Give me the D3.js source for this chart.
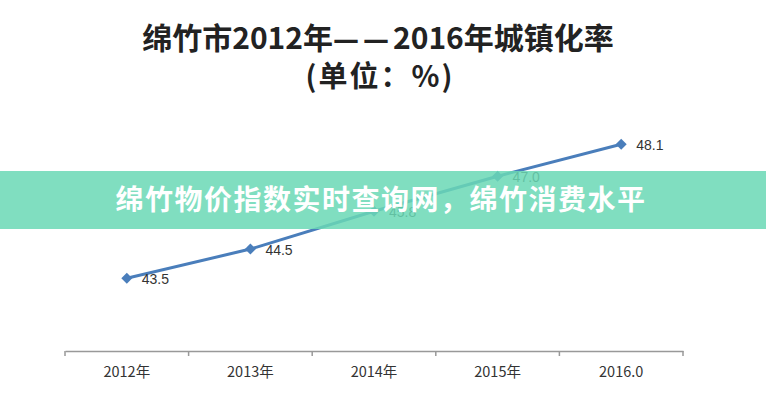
<!DOCTYPE html>
<html><head><meta charset="utf-8">
<script src="https://cdn.jsdelivr.net/npm/d3@7"></script>
<style>html,body{margin:0;padding:0;background:#fff;}svg{display:block;}</style>
</head><body>
<svg id="c" width="766" height="400"></svg>
<script>
const categories = ["2012年","2013年","2014年","2015年","2016.0"];
const values = [43.5, 44.5, 45.8, 47.0, 48.1];
const valueLabels = ["43.5","44.5","45.8","47.0","48.1"];
const titleParts = ["绵竹市2012年", "——", "2016年城镇化率"];
const subtitle = "(单位：%)";
const bannerText = "绵竹物价指数实时查询网，绵竹消费水平";

const svg = d3.select("#c");
const font = "'Noto Sans CJK SC','Noto Sans',sans-serif";
const x = d3.scaleBand().domain(categories).range([65, 683]);
const y = d3.scaleLinear().domain([41, 49]).range([351, 118]);

// title
const t1 = svg.append("text").attr("x", 378).attr("y", 49).attr("text-anchor","middle")
  .attr("font-family", font).attr("font-weight","bold").attr("font-size", 30).attr("fill","#222");
t1.append("tspan").text(titleParts[0]);
t1.append("tspan").attr("letter-spacing", 4).attr("font-family","'DejaVu Sans',sans-serif").attr("font-size",26).text(titleParts[1]);
t1.append("tspan").text(titleParts[2]);
svg.append("text").attr("x", 380).attr("y", 87).attr("text-anchor","middle")
  .attr("font-family", font).attr("font-weight","bold").attr("font-size", 29).attr("fill","#222")
  .attr("letter-spacing", 2)
  .text(subtitle);

// axis
const ax = svg.append("g").attr("transform","translate(0,351)")
  .call(d3.axisBottom(x).tickSize(0).tickPadding(16));
ax.select(".domain").attr("stroke","#999").attr("stroke-width",1.5);
ax.selectAll("text").attr("font-family",font)
  .attr("font-size",14.5).attr("fill","#333");
const bounds = categories.map(c => x(c)).concat([x.range()[1]]);
ax.selectAll("line.b").data(bounds).enter().append("line").attr("class","b")
  .attr("x1", d=>d).attr("x2", d=>d).attr("y1",0).attr("y2",5)
  .attr("stroke","#999").attr("stroke-width",1.5);

// line
const cx = d => x(d.c) + x.bandwidth()/2;
const data = categories.map((c,i)=>({c, v: values[i], l: valueLabels[i]}));
svg.append("path").datum(data)
  .attr("d", d3.line().x(cx).y(d=>y(d.v)))
  .attr("fill","none").attr("stroke","#4a7ebb").attr("stroke-width",3);
svg.selectAll("path.m").data(data).enter().append("path").attr("class","m")
  .attr("d", d3.symbol(d3.symbolSquare, 60))
  .attr("transform", d=>`translate(${cx(d)},${y(d.v)}) rotate(45)`)
  .attr("fill","#4a7ebb");
svg.selectAll("text.v").data(data).enter().append("text").attr("class","v")
  .attr("x", d=>cx(d)+15).attr("y", d=>y(d.v)+6)
  .attr("font-family","'Liberation Sans','Arial',sans-serif").attr("font-size",14).attr("fill","#333")
  .text(d=>d.l);

// banner overlay
svg.append("rect").attr("x",0).attr("y",171).attr("width",766).attr("height",58)
  .attr("fill","rgba(106,216,181,0.85)");
svg.append("text").attr("x",381).attr("y",210).attr("text-anchor","middle")
  .attr("font-family",font).attr("font-weight","bold").attr("font-size",28).attr("fill","#fff")
  .attr("letter-spacing",1.5)
  .text(bannerText);
</script>
</body></html>
